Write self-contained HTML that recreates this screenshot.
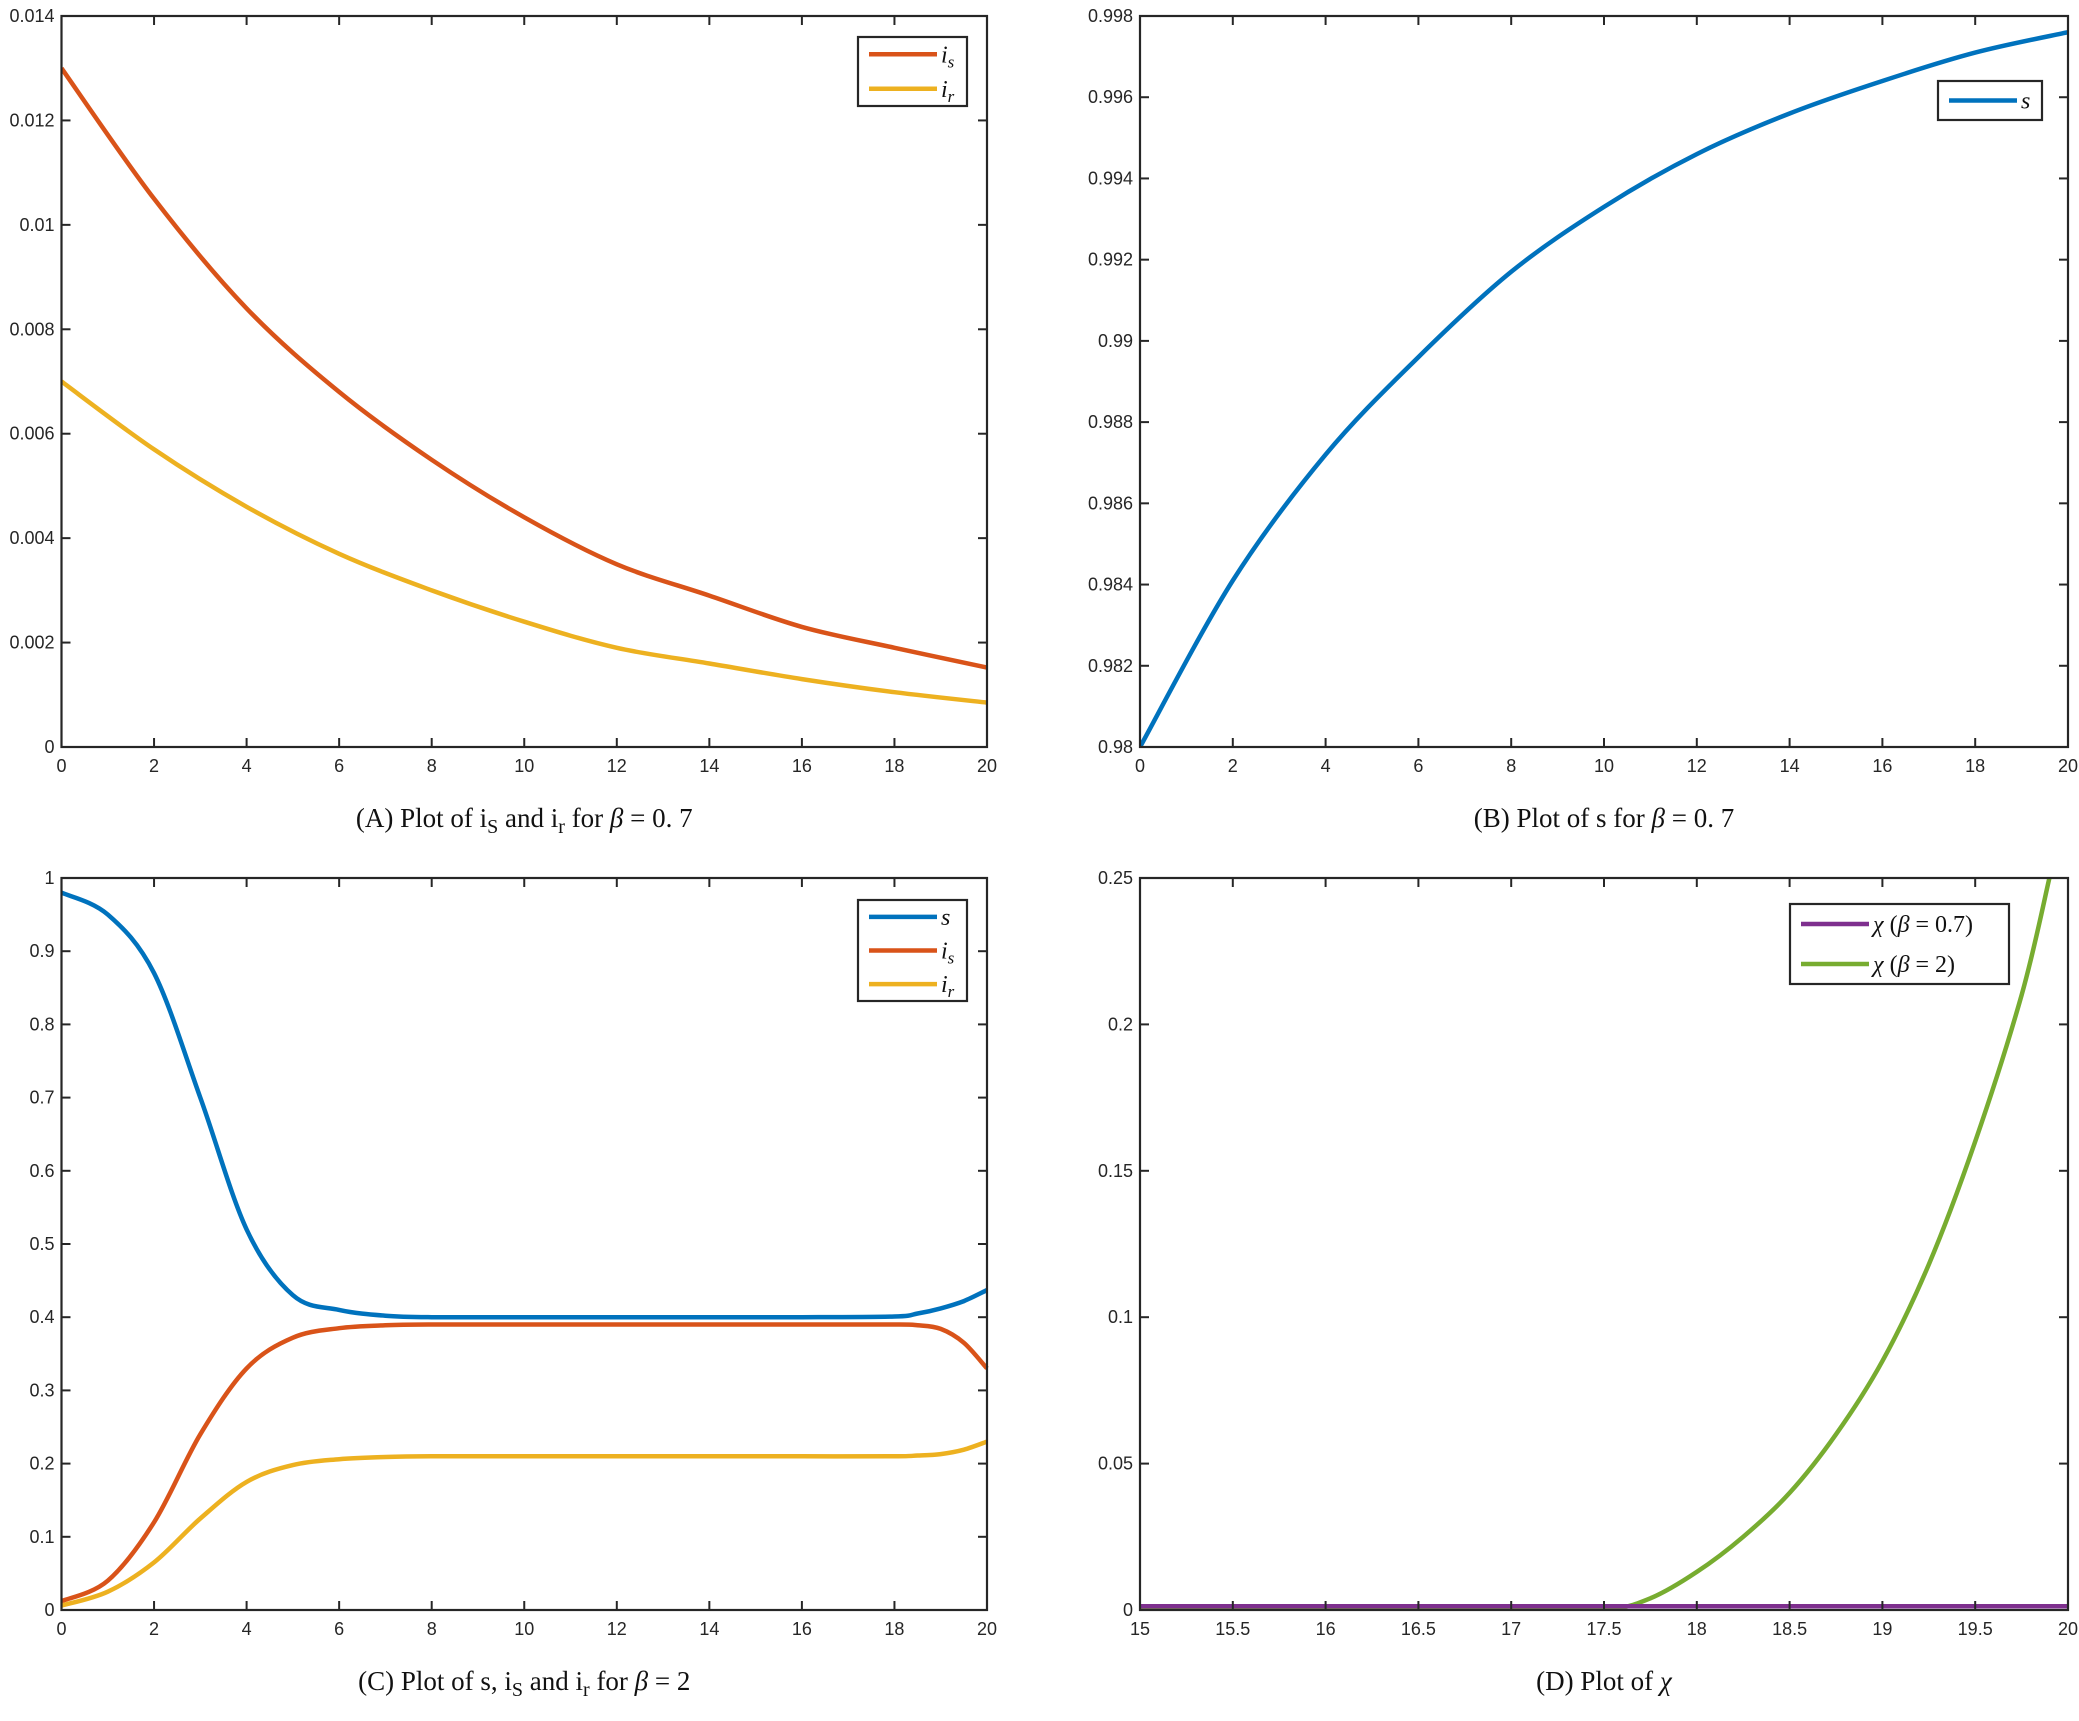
<!DOCTYPE html>
<html><head><meta charset="utf-8">
<style>
html,body{margin:0;padding:0;background:#fff;}
svg{display:block;}
.tk{font-family:"Liberation Sans",sans-serif;font-size:18px;fill:#262626;}
.cap{font-family:"Liberation Serif",serif;font-size:27px;fill:#111;}
.lg{font-family:"Liberation Serif",serif;font-size:24px;font-style:italic;fill:#111;}
</style></head>
<body>
<svg id="fig" width="2079" height="1721" viewBox="0 0 2079 1721" xmlns="http://www.w3.org/2000/svg"></svg>
<script>
// ---- Data ----
const tA = [0,2,4,6,8,10,12,14,16,18,20];
const isA = [0.013,0.0105,0.0084,0.0068,0.0055,0.0044,0.0035,0.0029,0.0023,0.0019,0.00152];
const irA = [0.007,0.0057,0.0046,0.0037,0.0030,0.0024,0.0019,0.0016,0.0013,0.00105,0.00085];
const tB = [0,2,4,6,8,10,12,14,16,18,20];
const sB = [0.98,0.9841,0.9872,0.9896,0.9917,0.9933,0.9946,0.9956,0.9964,0.9971,0.9976];
const tC = [0,1,2,3,4,5,6,7,8,10,12,14,16,18,18.5,19,19.5,20];
const sC = [0.98,0.95,0.87,0.70,0.52,0.43,0.41,0.402,0.40,0.40,0.40,0.40,0.40,0.401,0.405,0.412,0.422,0.437];
const isC = [0.012,0.04,0.12,0.24,0.33,0.372,0.385,0.389,0.39,0.39,0.39,0.39,0.39,0.39,0.389,0.384,0.365,0.33];
const irC = [0.006,0.025,0.065,0.125,0.175,0.198,0.206,0.209,0.21,0.21,0.21,0.21,0.21,0.21,0.211,0.213,0.219,0.23];
const tD = [15,16,17,17.5,17.75,18,18.25,18.5,18.75,19,19.25,19.5,19.75,19.9];
const chiG = [0,0,0,0,0.004,0.013,0.025,0.04,0.06,0.085,0.118,0.16,0.21,0.25];
const tDp = [15,20];
const chiP = [0.0013,0.0013];
const ticksA = ["0","0.002","0.004","0.006","0.008","0.01","0.012","0.014"];
const ticksB = ["0.98","0.982","0.984","0.986","0.988","0.99","0.992","0.994","0.996","0.998"];
const ticksC = ["0","0.1","0.2","0.3","0.4","0.5","0.6","0.7","0.8","0.9","1"];
const ticksD = ["0","0.05","0.1","0.15","0.2","0.25"];
const xt20 = ["0","2","4","6","8","10","12","14","16","18","20"];
const xtD = ["15","15.5","16","16.5","17","17.5","18","18.5","19","19.5","20"];

const NS="http://www.w3.org/2000/svg";
const fig=document.getElementById('fig');
function mk(tag,attrs,parent){const e=document.createElementNS(NS,tag);for(const k in attrs)e.setAttribute(k,attrs[k]);(parent||fig).appendChild(e);return e;}
function pathD(xs,ys,sx,sy){
  const p=xs.map((x,i)=>[sx(x),sy(ys[i])]);
  let d='M'+p[0][0].toFixed(1)+','+p[0][1].toFixed(1);
  for(let i=0;i<p.length-1;i++){
    const p0=p[Math.max(0,i-1)],p1=p[i],p2=p[i+1],p3=p[Math.min(p.length-1,i+2)];
    const c1=[p1[0]+(p2[0]-p0[0])/6,p1[1]+(p2[1]-p0[1])/6];
    const c2=[p2[0]-(p3[0]-p1[0])/6,p2[1]-(p3[1]-p1[1])/6];
    d+='C'+c1.map(v=>v.toFixed(1)).join(',')+' '+c2.map(v=>v.toFixed(1)).join(',')+' '+p2[0].toFixed(1)+','+p2[1].toFixed(1);
  }
  return d;
}
function panel(id,L,T,R,B,xmin,xmax,xticks,ymin,ymax,yticks,series,legend,caption){
  const g=mk('g',{});
  
  
  const sx=x=>L+(x-xmin)/(xmax-xmin)*(R-L);
  const sy=y=>B-(y-ymin)/(ymax-ymin)*(B-T);
  const cid='clip-'+id;
  const cp=mk('clipPath',{id:cid},g);mk('rect',{x:L,y:T-3,width:R-L+3,height:B-T+3},cp);
  series.forEach(s=>{
    const p=mk('path',{d:pathD(s.x,s.y,sx,sy),fill:'none',stroke:s.c,'stroke-width':4.5,'clip-path':'url(#'+cid+')'},g);
    
    
  });
  const ax=mk('rect',{x:L,y:T,width:R-L,height:B-T,fill:'none',stroke:'#262626','stroke-width':2.2},g);
  
  
  xticks.forEach(t=>{const v=parseFloat(t),x=sx(v);
    mk('line',{x1:x,y1:B,x2:x,y2:B-9,stroke:'#262626','stroke-width':2},g);
    mk('line',{x1:x,y1:T,x2:x,y2:T+9,stroke:'#262626','stroke-width':2},g);
    const tx=mk('text',{x:x,y:B+25,'text-anchor':'middle',class:'tk'},g);tx.textContent=t;
    
    
  });
  yticks.forEach(t=>{const v=parseFloat(t),y=sy(v);
    mk('line',{x1:L,y1:y,x2:L+9,y2:y,stroke:'#262626','stroke-width':2},g);
    mk('line',{x1:R,y1:y,x2:R-9,y2:y,stroke:'#262626','stroke-width':2},g);
    const tx=mk('text',{x:L-7,y:y+6,'text-anchor':'end',class:'tk'},g);tx.textContent=t;
    
    
  });
  const lg=mk('g',{},g);
  
  
  mk('rect',{x:legend.x,y:legend.y,width:legend.w,height:legend.h,fill:'#fff',stroke:'#262626','stroke-width':2.2},lg);
  legend.items.forEach((it,i)=>{
    const yy=legend.y+legend.h/(legend.items.length)*(i+0.5);
    mk('line',{x1:legend.x+11,y1:yy,x2:legend.x+11+legend.ll,y2:yy,stroke:it.c,'stroke-width':4.5},lg);
    const tx=mk('text',{x:legend.x+15+legend.ll,y:yy+8,class:'lg'},lg);tx.innerHTML=it.t;
    
    
  });
  const c=mk('text',{x:(L+R)/2,y:B+80,'text-anchor':'middle',class:'cap'},g);c.innerHTML=caption;
  
  
}
const ORG='#d95319',YEL='#edb120',BLU='#0072bd',PUR='#7e2f8e',GRN='#77ac30';
const sub=(b,s)=>b+'<tspan font-size="17" dy="5">'+s+'</tspan><tspan dy="-5"></tspan>';
panel('panel-a',61.5,16,987,747,0,20,xt20,0,0.014,ticksA,
  [{x:tA,y:isA,c:ORG,name:'line-is'},{x:tA,y:irA,c:YEL,name:'line-ir'}],
  {x:858,y:37,w:109,h:69,ll:68,items:[{t:sub('i','s'),c:ORG},{t:sub('i','r'),c:YEL}]},
  '(A)  Plot of  i<tspan font-size="20" dy="6">S</tspan><tspan dy="-6"> and  i</tspan><tspan font-size="20" dy="6">r</tspan><tspan dy="-6"> for </tspan><tspan font-style="italic">β</tspan>  =  0. 7');
panel('panel-b',1140,16,2068,747,0,20,xt20,0.98,0.998,ticksB,
  [{x:tB,y:sB,c:BLU,name:'line-s'}],
  {x:1938,y:81,w:104,h:39,ll:68,items:[{t:'s',c:BLU}]},
  '(B)  Plot of  s for <tspan font-style="italic">β</tspan>  =  0. 7');
panel('panel-c',61.5,878,987,1610,0,20,xt20,0,1,ticksC,
  [{x:tC,y:sC,c:BLU,name:'line-s'},{x:tC,y:isC,c:ORG,name:'line-is'},{x:tC,y:irC,c:YEL,name:'line-ir'}],
  {x:858,y:900,w:109,h:101,ll:68,items:[{t:'s',c:BLU},{t:sub('i','s'),c:ORG},{t:sub('i','r'),c:YEL}]},
  '(C)  Plot of  s,  i<tspan font-size="20" dy="6">S</tspan><tspan dy="-6"> and  i</tspan><tspan font-size="20" dy="6">r</tspan><tspan dy="-6"> for </tspan><tspan font-style="italic">β</tspan>  =  2');
panel('panel-d',1140,878,2068,1610,15,20,xtD,0,0.25,ticksD,
  [{x:tD,y:chiG,c:GRN,name:'line-chi-beta-2'},{x:tDp,y:chiP,c:PUR,name:'line-chi-beta-0.7'}],
  {x:1790,y:904,w:219,h:80,ll:68,items:[{t:'χ <tspan font-style="normal">(</tspan>β<tspan font-style="normal"> = 0.7)</tspan>',c:PUR},{t:'χ <tspan font-style="normal">(</tspan>β<tspan font-style="normal"> = 2)</tspan>',c:GRN}]},
  '(D)  Plot of  <tspan font-style="italic">χ</tspan>');
</script>
</body></html>
